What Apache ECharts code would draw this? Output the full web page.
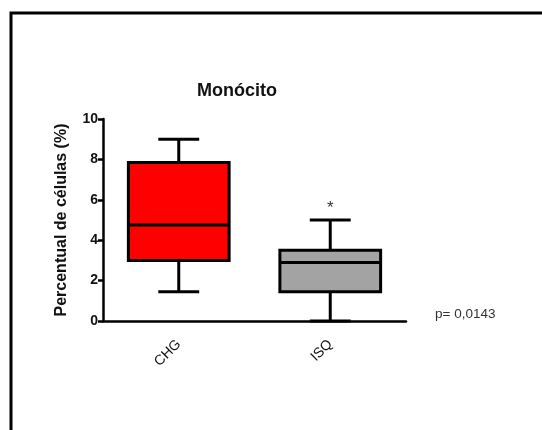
<!DOCTYPE html>
<html>
<head>
<meta charset="utf-8">
<script src="https://cdn.jsdelivr.net/npm/echarts@6/dist/echarts.min.js"></script>
<style>
html,body{margin:0;padding:0;background:#fff;}
#chart{width:542px;height:430px;}
</style>
</head>
<body>
<div id="chart"></div>
<script>
// Data
var categories = ['CHG', 'ISQ'];
var minValues = [1.45, 0.0];
var q1Values = [3.0, 1.45];
var medianValues = [4.75, 2.9];
var q3Values = [7.85, 3.5];
var maxValues = [9.0, 5.0];
var significance = ['', '*'];
var boxColors = ['#FF0000', '#A3A3A3'];
var yTicks = [0, 2, 4, 6, 8, 10];
var pValueText = 'p= 0,0143';

var seriesData = categories.map(function (c, i) {
  return [i, minValues[i], q1Values[i], medianValues[i], q3Values[i], maxValues[i]];
});

var chart = echarts.init(document.getElementById('chart'), null, {renderer: 'canvas'});
var FONT = '"Liberation Sans", Arial, sans-serif';

chart.setOption({
  backgroundColor: '#ffffff',
  animation: false,
  title: {
    text: 'Monócito',
    left: 232,
    top: 77,
    textAlign: 'center',
    textStyle: {fontFamily: FONT, fontSize: 18, fontWeight: 'bold', color: '#111'}
  },
  grid: {left: 103, right: 136, top: 119, bottom: 109},
  xAxis: {
    type: 'category',
    data: categories,
    boundaryGap: true,
    axisLine: {lineStyle: {color: '#000', width: 2.5}},
    axisTick: {alignWithLabel: true, length: 5, lineStyle: {color: '#000', width: 2.5}},
    axisLabel: {rotate: 45, fontFamily: FONT, fontSize: 14, color: '#111', margin: 21}
  },
  yAxis: {
    type: 'value',
    min: yTicks[0],
    max: yTicks[yTicks.length - 1],
    interval: 2,
    name: 'Percentual de células (%)',
    nameLocation: 'middle',
    nameGap: 33,
    nameTextStyle: {fontFamily: FONT, fontSize: 16, fontWeight: 'bold', color: '#111'},
    axisLine: {show: true, lineStyle: {color: '#000', width: 2.5}},
    axisTick: {show: true, length: 5, lineStyle: {color: '#000', width: 2.5}},
    axisLabel: {fontFamily: FONT, fontSize: 14, fontWeight: 'bold', color: '#111', margin: 5},
    splitLine: {show: false}
  },
  graphic: [
    {
      type: 'polyline',
      shape: {points: [[11, 440], [11, 13], [560, 13]]},
      style: {stroke: '#000', lineWidth: 3, fill: null},
      z: 10
    },
    {
      type: 'text',
      left: 435,
      top: 307,
      style: {text: pValueText, fontFamily: FONT, fontSize: 13.5, fill: '#333'}
    }
  ],
  series: [{
    type: 'custom',
    data: seriesData,
    encode: {x: 0, y: [1, 2, 3, 4, 5]},
    renderItem: function (params, api) {
      var idx = params.dataIndex;
      var x = api.value(0);
      var band = api.size([1, 0])[0];
      var bw = band * 0.665;
      var cw = band * 0.27;
      var cx = api.coord([x, 0])[0];
      var yMin = api.coord([x, api.value(1)])[1];
      var yQ1 = api.coord([x, api.value(2)])[1];
      var yMed = api.coord([x, api.value(3)])[1];
      var yQ3 = api.coord([x, api.value(4)])[1];
      var yMax = api.coord([x, api.value(5)])[1];
      var ls = {stroke: '#000', lineWidth: 3};
      var children = [
        {type: 'line', shape: {x1: cx, y1: yQ3, x2: cx, y2: yMax}, style: ls},
        {type: 'line', shape: {x1: cx, y1: yQ1, x2: cx, y2: yMin}, style: ls},
        {type: 'line', shape: {x1: cx - cw / 2, y1: yMax, x2: cx + cw / 2, y2: yMax}, style: ls},
        {type: 'line', shape: {x1: cx - cw / 2, y1: yMin, x2: cx + cw / 2, y2: yMin}, style: ls},
        {type: 'rect', shape: {x: cx - bw / 2, y: yQ3, width: bw, height: yQ1 - yQ3},
          style: {fill: boxColors[idx], stroke: '#000', lineWidth: 3}},
        {type: 'line', shape: {x1: cx - bw / 2, y1: yMed, x2: cx + bw / 2, y2: yMed}, style: ls}
      ];
      if (significance[idx]) {
        children.push({type: 'text', style: {text: significance[idx], x: cx, y: yMax - 3,
          textAlign: 'center', textVerticalAlign: 'bottom', fontFamily: FONT, fontSize: 17, fill: '#333'}});
      }
      return {type: 'group', children: children};
    }
  }]
});
</script>
</body>
</html>
